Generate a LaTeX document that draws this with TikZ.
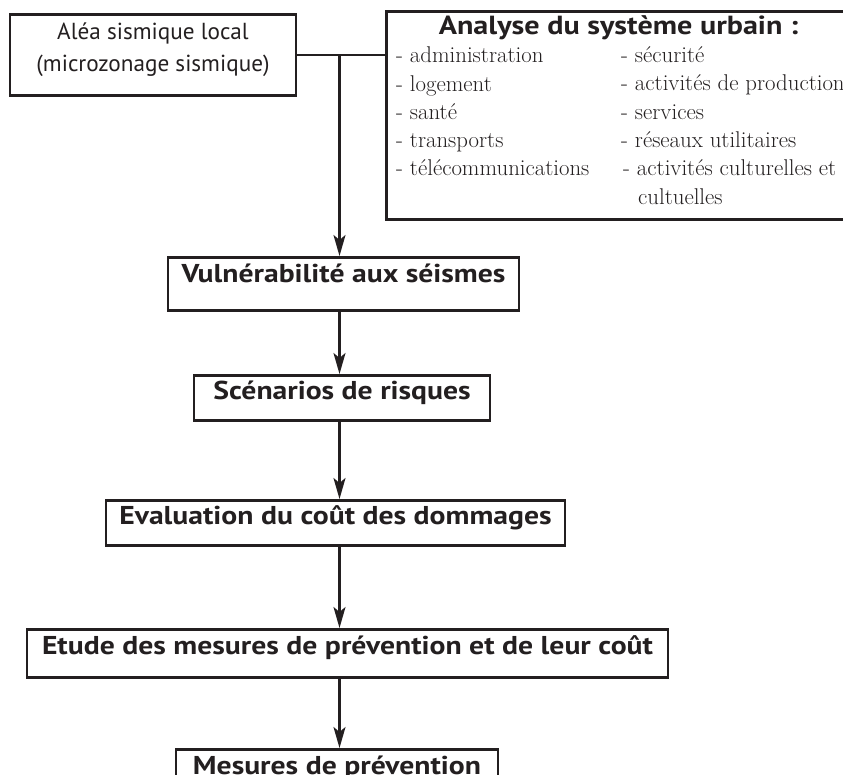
\documentclass[tikz,border=0pt]{standalone}
\usepackage{fontspec}
\newfontfamily\ptsans{PT Sans}
\newfontfamily\ptsanswide{PT Sans}[FakeStretch=1.15]
\usetikzlibrary{arrows.meta}
\definecolor{ink}{HTML}{231F20}
\tikzset{
  box/.style={draw=ink, line width=2.6pt, inner sep=0pt, text=ink, anchor=north},
  boldtxt/.style={font=\ptsanswide\bfseries\fontsize{25.8}{30}\selectfont},
  flow/.style={draw=ink, line width=2.2pt, -{Stealth[length=21pt,width=12pt,inset=5pt]}},
  link/.style={draw=ink, line width=2.2pt},
  serif/.style={text=ink, inner sep=0pt, align=left, font=\fontsize{22.8}{28.33}\selectfont},
}
\begin{document}
\begin{tikzpicture}[x=1pt,y=-1pt]
\useasboundingbox (0,0) rectangle (843,775);
\clip (0,0) rectangle (843,775);
\fill[white] (0,0) rectangle (843,775);
% top boxes
\node[box, align=center, font=\ptsans\fontsize{23.2}{32}\selectfont, minimum width=286pt,
      text height=57pt, text depth=24pt] (alea) at (153,13)
      {Aléa sismique local\\(microzonage sismique)};
\node[box, anchor=north west, minimum width=485pt, minimum height=208pt] (ana) at (385,10) {};
\node[text=ink, inner sep=0pt, font=\ptsanswide\bfseries\fontsize{26.2}{30}\selectfont, anchor=base] (anatitle) at (618.5,35) {Analyse du système urbain :};
\node[serif, anchor=base west] (colA) at (396,176)
  {- administration\\- logement\\- santé\\- transports\\- télécommunications};
\node[serif, anchor=base west] (colB) at (621,204.3)
  {- sécurité\\- activités de production\\- services\\- réseaux utilitaires\\\hspace*{2pt}- activités culturelles et\\\hspace*{17pt}cultuelles};
% flow boxes
\node[box, boldtxt, minimum width=351pt, text height=25.7pt, text depth=27.3pt] (vul) at (343.5,256) {Vulnérabilité aux séismes};
\node[box, boldtxt, minimum width=296pt, text height=24pt, text depth=21pt] (sce) at (342,374) {Scénarios de risques};
\node[box, boldtxt, minimum width=459pt, text height=24pt, text depth=21pt] (eva) at (335.5,499) {Evaluation du coût des dommages};
\node[box, boldtxt, minimum width=641pt, text height=25pt, text depth=23pt] (etu) at (347.5,628) {Etude des mesures de prévention et de leur coût};
\node[box, boldtxt, minimum width=322pt, text height=25pt, text depth=22pt] (mes) at (337,748) {Mesures de prévention};
% connectors
\coordinate (spine) at (339.5,0);
\draw[link] (alea.east) -- (alea.east -| ana.west);
\draw[flow] (alea.east -| spine) -- (vul.north -| spine);
\draw[flow] (vul.south -| spine) -- (sce.north -| spine);
\draw[flow] (sce.south -| spine) -- (eva.north -| spine);
\draw[flow] (eva.south -| spine) -- (etu.north -| spine);
\draw[flow] (etu.south -| spine) -- (mes.north -| spine);
\end{tikzpicture}
\end{document}
